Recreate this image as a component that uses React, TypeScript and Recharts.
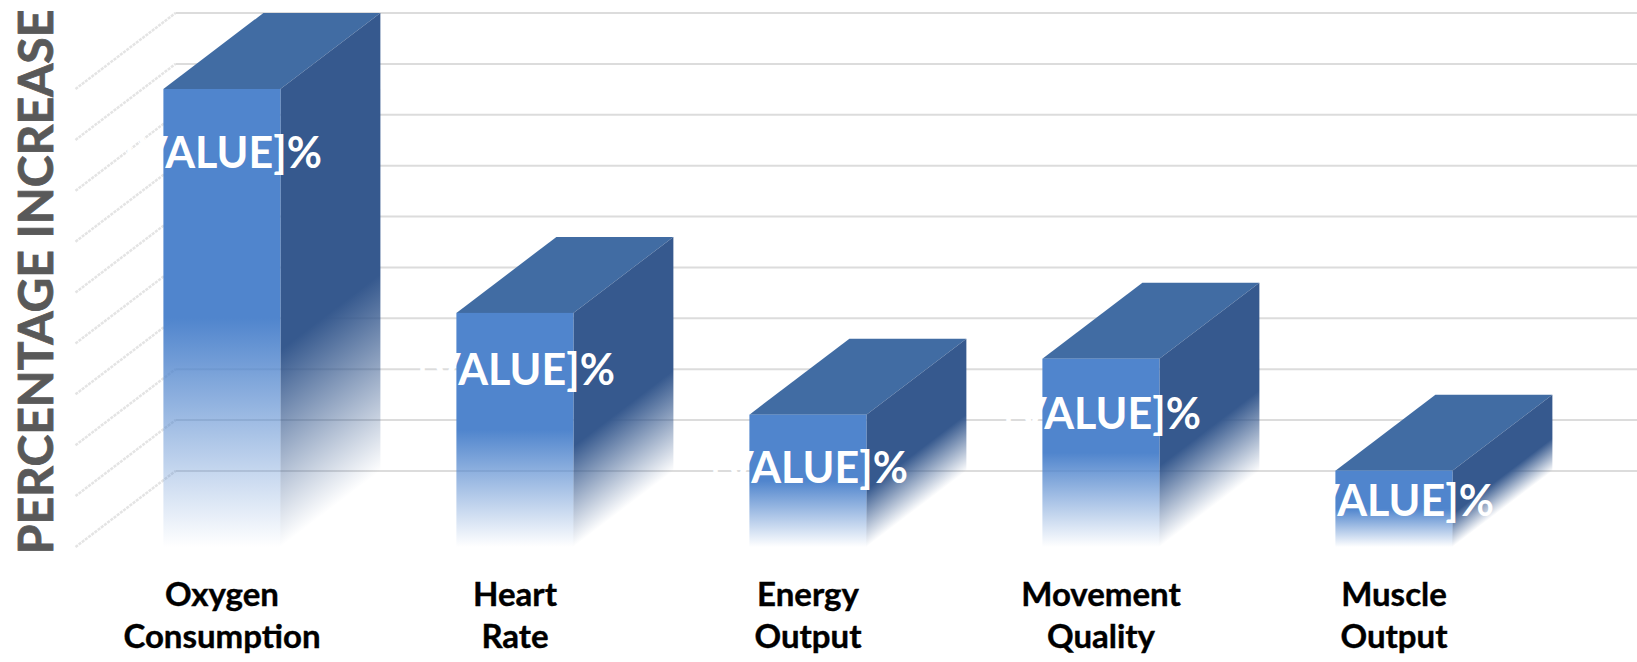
import { BarChart, Bar, XAxis, YAxis, CartesianGrid, LabelList } from 'recharts';

const categories = ['Oxygen Consumption', 'Heart Rate', 'Energy Output', 'Movement Quality', 'Muscle Output'];
const increases = [45, 23, 13, 18.5, 7.5];
const axisTicks = [0, 5, 10, 15, 20, 25, 30, 35, 40, 45];

const data = categories.map((name, i) => ({ name, increase: increases[i] }));

const DEPTH_X = 100;
const DEPTH_Y = 76;
const FONT = 'Lato, "Open Sans", sans-serif';

function Box3D({ x, y, width, height, index }: any) {
  const fx = x + width;
  const id = `side-${index}`;
  return (
    <g>
      <defs>
        <linearGradient
          id={id}
          gradientUnits="userSpaceOnUse"
          x1={fx}
          y1={y}
          x2={fx}
          y2={y + height}
          gradientTransform={`matrix(1 ${-DEPTH_Y / DEPTH_X} 0 1 0 ${(fx * DEPTH_Y) / DEPTH_X})`}
        >
          <stop offset="0" stopColor="#36598e" />
          <stop offset="0.57" stopColor="#36598e" />
          <stop offset="1" stopColor="#36598e" stopOpacity="0" />
        </linearGradient>
      </defs>
      <polygon
        points={`${x},${y} ${x + DEPTH_X},${y - DEPTH_Y} ${fx + DEPTH_X},${y - DEPTH_Y} ${fx},${y}`}
        fill="#416ca3"
      />
      <polygon
        points={`${fx},${y} ${fx + DEPTH_X},${y - DEPTH_Y} ${fx + DEPTH_X},${y + height - DEPTH_Y} ${fx},${y + height}`}
        fill={`url(#${id})`}
      />
      <rect x={x} y={y} width={width} height={height} fill="url(#frontFade)" />
    </g>
  );
}

// grid runs up the side wall, then along the back wall
function GridLine({ x1, x2, y1 }: any) {
  return (
    <g fill="none">
      <line
        x1={x1}
        y1={y1}
        x2={x1 + DEPTH_X}
        y2={y1 - DEPTH_Y}
        stroke="#e4e4e4"
        strokeWidth={2.5}
        strokeDasharray="3 1"
      />
      <line x1={x1 + DEPTH_X} y1={y1 - DEPTH_Y} x2={x2 + DEPTH_X} y2={y1 - DEPTH_Y} stroke="#dcdcdc" strokeWidth={2} />
    </g>
  );
}

function CategoryTick({ x, y, payload }: any) {
  const [first, second] = payload.value.split(' ');
  return (
    <text
      x={x}
      y={y}
      textAnchor="middle"
      fontFamily={FONT}
      fontWeight={700}
      fontSize={33}
      stroke="#000"
      strokeWidth={0.4}
      fill="#000"
    >
      <tspan x={x} dy={51}>{first}</tspan>
      <tspan x={x} dy={42}>{second}</tspan>
    </text>
  );
}

function ValueLabel({ x, y, width, height }: any) {
  const drop = Math.min(50 + height * 0.03, height * 0.4);
  return (
    <text
      x={x + width / 2 + 100}
      y={y + drop + 15}
      textAnchor="end"
      fontFamily={FONT}
      fontWeight={700}
      fontSize={43}
      fill="#fff"
    >
      [VALUE]%
    </text>
  );
}

export default function App() {
  return (
    <div style={{ position: 'absolute', left: 0, top: 0, width: 1637, height: 662, overflow: 'hidden', background: '#fff' }}>
      <BarChart
        width={1637}
        height={662}
        data={data}
        margin={{ top: 89, right: 96.5, bottom: 0, left: 75.5 }}
        barCategoryGap="30%"
      >
        <defs>
          <linearGradient id="frontFade" x1="0" y1="0" x2="0" y2="1">
            <stop offset="0" stopColor="#5085cd" />
            <stop offset="0.5" stopColor="#5085cd" />
            <stop offset="1" stopColor="#5085cd" stopOpacity="0" />
          </linearGradient>
        </defs>
        <CartesianGrid
          vertical={false}
          horizontal={(props: any) => <GridLine key={props.key ?? props.y1} {...props} />}
        />
        <XAxis
          dataKey="name"
          axisLine={false}
          tickLine={false}
          height={115}
          interval={0}
          tick={<CategoryTick />}
        />
        <YAxis
          width={0}
          domain={[0, 45]}
          ticks={axisTicks}
          interval={0}
          axisLine={false}
          tickLine={false}
          tick={() => <g />}
        />
        <Bar dataKey="increase" shape={<Box3D />} isAnimationActive={false}>
          <LabelList dataKey="increase" content={<ValueLabel />} />
        </Bar>
        <text
          transform="translate(53 282) rotate(-90)"
          textAnchor="middle"
          fontFamily={FONT}
          fontWeight={700}
          fontSize={48}
          stroke="#595959"
          strokeWidth={0.8}
          fill="#595959"
        >
          PERCENTAGE INCREASE
        </text>
      </BarChart>
    </div>
  );
}
